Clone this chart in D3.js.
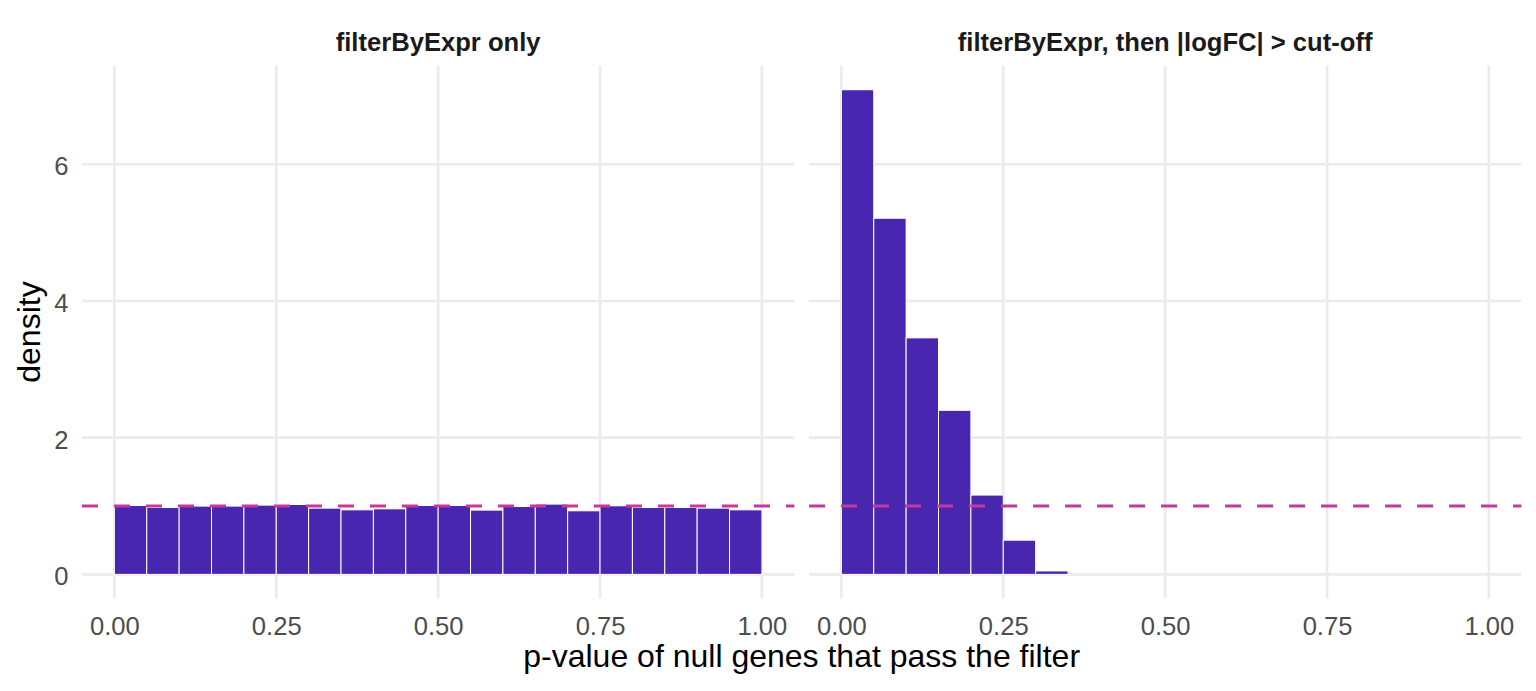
<!DOCTYPE html>
<html>
<head>
<meta charset="utf-8">
<script src="https://cdn.jsdelivr.net/npm/d3@7"></script>
<style>
  body { margin: 0; background: #ffffff; }
  text { font-family: "Liberation Sans", Arial, Helvetica, sans-serif; }
</style>
</head>
<body>
<div id="chart"></div>
<script>
// histogram bins: 20 bins of width 0.05 on [0, 1]
var binWidth = 0.05;
var binStarts = [0, 0.05, 0.10, 0.15, 0.20, 0.25, 0.30, 0.35, 0.40, 0.45,
                 0.50, 0.55, 0.60, 0.65, 0.70, 0.75, 0.80, 0.85, 0.90, 0.95];

// density per bin
var densityExprOnly = [1.007, 0.978, 0.999, 0.999, 1.013, 1.022, 0.969, 0.944, 0.959, 1.007,
                       1.007, 0.940, 0.993, 1.028, 0.930, 1.003, 0.978, 0.978, 0.969, 0.944];
var densityExprLogFC = [7.09, 5.21, 3.46, 2.40, 1.16, 0.50, 0.05, 0, 0, 0,
                        0, 0, 0, 0, 0, 0, 0, 0, 0, 0];

var panelTitles = ["filterByExpr only", "filterByExpr, then |logFC| > cut-off"];
var xTicks = [0, 0.25, 0.5, 0.75, 1];
var yTicks = [0, 2, 4, 6];
var refLine = 1;   // uniform density

var xTitle = "p-value of null genes that pass the filter";
var yTitle = "density";

function render(id_name){
    var width = 1536, height = 691;
    var panelTop = 65.5, panelBottom = 598.6;
    var panelLefts = [82, 809];
    var panelWidth = 712.3;

    var fillColor = "#4826b0";
    var lineColor = "#c7389c";
    var gridColor = "#ebebeb";

    var svg = d3.select(id_name)
        .append("svg")
            .attr("width", width)
            .attr("height", height);

    // y is shared by both panels, ggplot style 5% expansion
    var maxY = d3.max(densityExprOnly.concat(densityExprLogFC));
    var padY = maxY * 0.05;
    var y = d3.scaleLinear()
        .domain([0 - padY, maxY + padY])
        .range([panelBottom, panelTop]);

    var series = [densityExprOnly, densityExprLogFC];

    for (var p = 0; p < 2; p++) {
        var left = panelLefts[p];
        var x = d3.scaleLinear()
            .domain([-0.05, 1.05])
            .range([left, left + panelWidth]);

        var panel = svg.append("g").attr("class", "panel");

        // grid
        panel.selectAll("hgrid")
            .data(yTicks)
            .enter()
            .append("line")
                .attr("x1", left)
                .attr("x2", left + panelWidth)
                .attr("y1", function(d){ return y(d); })
                .attr("y2", function(d){ return y(d); })
                .attr("stroke", gridColor)
                .attr("stroke-width", 2.6);

        panel.selectAll("vgrid")
            .data(xTicks)
            .enter()
            .append("line")
                .attr("x1", function(d){ return x(d); })
                .attr("x2", function(d){ return x(d); })
                .attr("y1", panelTop)
                .attr("y2", panelBottom)
                .attr("stroke", gridColor)
                .attr("stroke-width", 2.6);

        // bars
        var bins = binStarts.map(function(s, i){
            return {x0: s, x1: s + binWidth, value: series[p][i]};
        });

        panel.selectAll("bar")
            .data(bins)
            .enter()
            .append("rect")
                .attr("x", function(d){ return x(d.x0); })
                .attr("width", function(d){ return x(d.x1) - x(d.x0); })
                .attr("y", function(d){ return y(d.value); })
                .attr("height", function(d){ return y(0) - y(d.value); })
                .attr("fill", fillColor)
                .attr("stroke", "#ffffff")
                .attr("stroke-width", 1);

        // dashed reference line at density 1
        panel.append("line")
            .attr("x1", left)
            .attr("x2", left + panelWidth)
            .attr("y1", y(refLine))
            .attr("y2", y(refLine))
            .attr("stroke", lineColor)
            .attr("stroke-width", 3)
            .attr("stroke-dasharray", "16,16");

        // x axis labels
        var xAxis = d3.axisBottom(x)
            .tickValues(xTicks)
            .tickSize(0)
            .tickPadding(0)
            .tickFormat(d3.format(".2f"));

        var gx = panel.append("g")
            .attr("transform", "translate(0," + 634.5 + ")")
            .call(xAxis);
        gx.select(".domain").remove();
        gx.selectAll("text")
            .attr("y", 0)
            .attr("dy", 0)
            .attr("fill", "#4d4d4d")
            .style("font-size", "25.6px");

        // strip title
        panel.append("text")
            .attr("x", left + panelWidth / 2)
            .attr("y", 51)
            .attr("text-anchor", "middle")
            .attr("fill", "#1a1a1a")
            .style("font-size", "25.6px")
            .style("font-weight", "bold")
            .text(panelTitles[p]);
    }

    // y axis labels, only on the left panel
    var yAxis = d3.axisLeft(y)
        .tickValues(yTicks)
        .tickSize(0)
        .tickPadding(0);

    var gy = svg.append("g")
        .attr("transform", "translate(" + 68.5 + ",0)")
        .call(yAxis);
    gy.select(".domain").remove();
    gy.selectAll("text")
        .attr("x", 0)
        .attr("dy", "0.41em")
        .attr("fill", "#4d4d4d")
        .style("font-size", "25.6px");

    // axis titles
    svg.append("text")
        .attr("x", (panelLefts[0] + panelLefts[1] + panelWidth) / 2)
        .attr("y", 667)
        .attr("text-anchor", "middle")
        .attr("fill", "#000000")
        .style("font-size", "32px")
        .text(xTitle);

    svg.append("text")
        .attr("transform", "translate(40," + (panelTop + panelBottom) / 2 + ") rotate(-90)")
        .attr("text-anchor", "middle")
        .attr("fill", "#000000")
        .style("font-size", "32px")
        .text(yTitle);
}

render("#chart");
</script>
</body>
</html>
